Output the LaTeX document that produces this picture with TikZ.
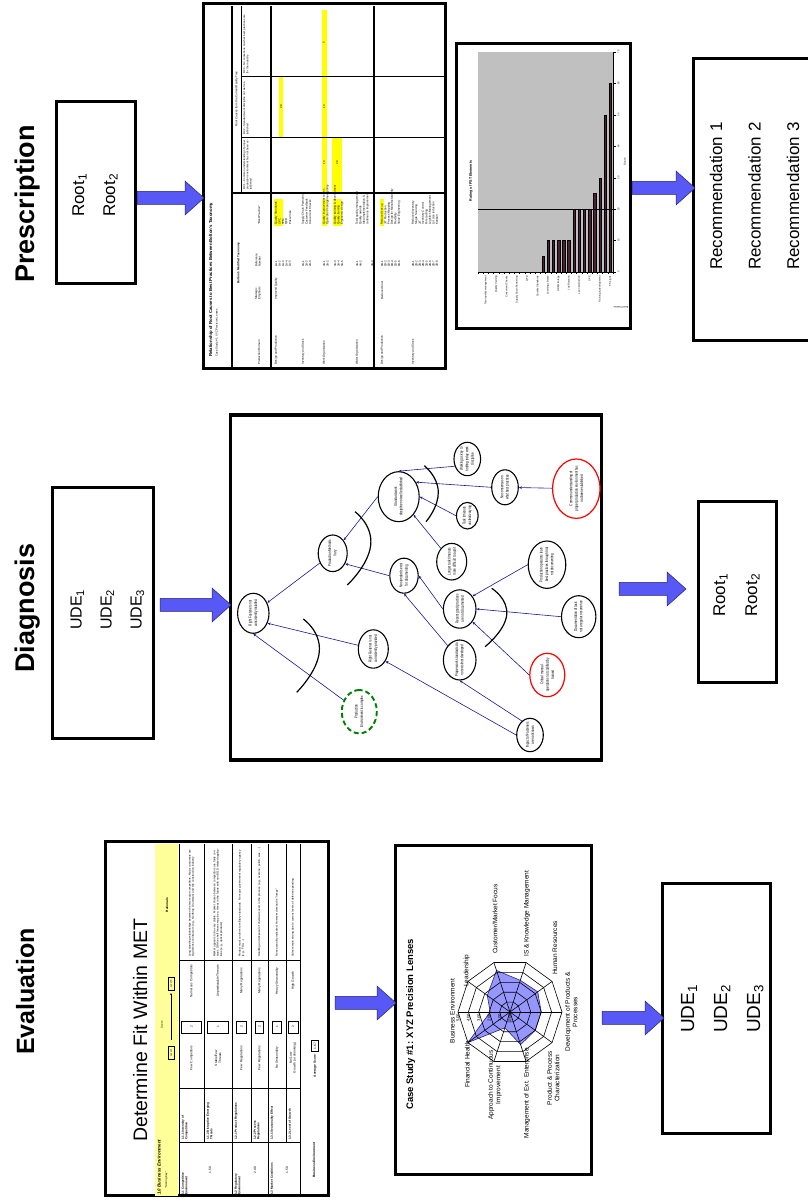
\documentclass[tikz,border=0pt]{standalone}
\usepackage{fontspec}
\setmainfont{Liberation Sans}
\usetikzlibrary{shapes.geometric,calc,arrows.meta}

\definecolor{arrowblue}{RGB}{88,88,246}
\definecolor{arrowedge}{RGB}{35,35,110}
\definecolor{linkblue}{RGB}{25,25,150}
\definecolor{hiyellow}{RGB}{255,255,0}
\definecolor{paleyellow}{RGB}{255,255,153}
\definecolor{plotgray}{RGB}{192,192,192}
\definecolor{barbrown}{RGB}{80,30,50}
\definecolor{radarfill}{RGB}{150,150,255}
\definecolor{radaredge}{RGB}{40,40,120}
\definecolor{dashgreen}{RGB}{0,128,0}

\newcommand\fz[2]{\fontsize{#1}{#2}\selectfont}

\tikzset{
  boxframe/.style={draw=black, line width=2.8pt, inner sep=0pt},
  headtext/.style={font=\fz{27}{32}\bfseries, anchor=base west, inner sep=0pt},
  bigtext/.style={font=\fz{17}{20}, anchor=base west, inner sep=0pt},
  causeshape/.style={ellipse, draw=black, line width=1.1pt, inner sep=0pt},
  redshape/.style={causeshape, draw=red, line width=1.2pt},
  greenshape/.style={causeshape, draw=dashgreen, line width=1.9pt, dash pattern=on 5pt off 3pt},
  causetext/.style={font=\fz{4.2}{5.4}, align=center, inner sep=0pt, xscale=0.7},
  causelink/.style={draw=linkblue, line width=0.6pt, -{Stealth[length=3pt,width=2.6pt]}},
  andarc/.style={draw=black, line width=1.2pt},
  barrow/.style={fill=arrowblue, draw=arrowedge, line width=0.5pt},
  gridline/.style={draw=black, line width=0.6pt},
  evtext/.style={inner sep=0pt, font=\fz{3.2}{3.8}},
  evhead/.style={inner sep=0pt, font=\fz{3}{3.6}\bfseries, anchor=north west, align=left, text width=52},
  scorebox/.style={draw=black, line width=0.9pt, inner sep=0pt, font=\fz{3.2}{3.8}},
  ptext/.style={inner sep=0pt, font=\fz{2.9}{3.4}, anchor=west},
  rlabel/.style={inner sep=0pt, font=\fz{6.5}{7.5}},
  ctext/.style={inner sep=0pt, font=\fz{2.5}{3}},
}

% ellipse of the current reality tree: style, name, u, w, half width, half height, text
\newcommand\causenode[7]{%
  \node[#1, minimum width={2*#5}, minimum height={2*#6}] (#2) at (#3,#4) {};
  \node[causetext] (#2-t) at (#2) {#7};}

% wide block arrow from a tail coordinate to a tip coordinate (pointing right on the page)
\newcommand\blockarrow[2]{%
  \draw[barrow] ($(#1)+(0,6.5)$) -- ($(#2)+(-19,6.5)$) -- ($(#2)+(-19,17)$) -- (#2)
    -- ($(#2)+(-19,-17)$) -- ($(#2)+(-19,-6.5)$) -- ($(#1)+(0,-6.5)$) -- cycle;}

% one scored row of the MET fit table: centre, box height, score, low end, high end, rationale
\newcommand\evrow[6]{%
  \node[evtext, text width=48, align=center] at (145,#1) {#4};
  \node[scorebox, minimum width=12, minimum height=#2] at (176,#1) {#3};
  \node[evtext, text width=40, align=center] at (222,#1) {#5};
  \node[evtext, text width=110, align=left, font=\fz{2.8}{3.3}] at (301,#1) {#6};}

\begin{document}
\begin{tikzpicture}[x=1pt,y=1pt]
\useasboundingbox (0,0) rectangle (808,1203);
\fill[white] (0,0) rectangle (808,1203);

% the slide is laid out sideways: u runs to the right, w upwards
\begin{scope}[shift={(808,0)}, rotate=90, transform shape]

% ---------------- column titles ----------------
\node[headtext, font=\fz{25}{30}\bfseries] (tEval) at (148,774) {Evaluation};
\node[headtext] (tDiag) at (530,774) {Diagnosis};
\node[headtext] (tPres) at (920,774) {Prescription};

% ================= EVALUATION =================
\node[boxframe, minimum width=354, minimum height=223, anchor=south west] (evtable) at (6,478) {};
\node[anchor=base west, inner sep=0pt, font=\fz{19.5}{23}] (evtitle) at (61,661) {Determine Fit Within MET};
\fill[paleyellow] (7.4,630) rectangle (358.6,653);
\draw[gridline] (7,629) -- (359,629);
\foreach \w in {576,540,508} \draw[gridline] (7,\w) -- (359,\w);
\foreach \w in {604,557,522} \draw[gridline] (61,\w) -- (359,\w);
\foreach \u in {61,115,243} \draw[gridline] (\u,508) -- (\u,629);
% header band
\node[anchor=base west, inner sep=0pt, font=\fz{4.4}{5}\bfseries\itshape] at (8,647.5) {1.0 Business Environment};
\node[anchor=base west, inner sep=0pt, font=\fz{2.8}{3.3}] at (14,641) {``Scoring Key''};
\node[scorebox, font=\fz{2.4}{2.8}, minimum width=13, minimum height=6] (lv1) at (150,637) {Level 1};
\node[inner sep=0pt, font=\fz{2.8}{3.3}] at (178,646) {Score};
\draw[line width=0.5pt, -{Stealth[length=2pt,width=1.6pt]}] (163,637) -- (210,637);
\node[scorebox, font=\fz{2.4}{2.8}, minimum width=13, minimum height=6] (lv5) at (219,637) {Level 5};
\node[inner sep=0pt, font=\fz{3.2}{3.8}\bfseries] at (298,641) {Rationale};
% group and item labels
\node[evhead] at (8,626.5) {1.1 Competitive\\Environment};
\node[evtext] at (33,598) {1.50};
\node[evhead] at (8,573.5) {1.2 Regulatory\\Environment};
\node[evtext] at (33,553) {2.00};
\node[evhead] at (8,537.5) {1.3 Market Conditions};
\node[evtext] at (33,521) {1.50};
\node[evhead] at (63,626.5) {1.1.1 Intensity of\\Competition};
\node[evhead] at (63,601.5) {1.1.2 Disruptive Emerging\\Threats};
\node[evhead] at (63,573.5) {1.2.1 Product Regulations};
\node[evhead] at (63,554.5) {1.2.2 Process\\Regulations};
\node[evhead] at (63,537.5) {1.3.1 Seasonality Effect};
\node[evhead] at (63,519.5) {1.3.2 Level of Growth};
\evrow{616.5}{20}{2}{Few Competitors}{Numerous Competitors}{Long standing relationships between the two major competitors. Major customers are big defense contractors (e.g., Northrop Grumman) and the construction industry}
\evrow{590}{21}{1}{Stable/Few\\Threats}{Unpredictable Threats}{Market appears to be very stable. Market shares between competitors are fairly constant. Off the shelf lenses may be a threat in the future with non-DOD related applications (e.g., optical products)}
\evrow{566.5}{10}{2}{Few Regulations}{Many Regulations}{Product must conform to military standards. No major government regulatory agency (e.g., FDA, ...)}
\evrow{548.5}{8}{2}{Few Regulations}{Many Regulations}{Handling and disposal of chemicals used in the process (e.g., acetone, polish, wax, ...)}
\evrow{531}{9}{1}{No Seasonality}{Heavy Seasonality}{No seasonality indicated. However demand is ``lumpy''}
\evrow{515}{10}{2}{No/Low\\Growth (or shrinking)}{High Growth}{Sales remain strong due to current levels of defense spending}
\node[evtext, font=\fz{3.2}{3.8}\bfseries] at (43,494) {Business Environment};
\node[evtext, font=\fz{3.2}{3.8}\bfseries] at (137,493) {Average Score};
\node[scorebox, minimum width=11, minimum height=7] (avg) at (157,493) {1.67};

% radar chart
\node[boxframe, minimum width=329, minimum height=196, anchor=south west] (radarbox) at (27,215) {};
\node[anchor=base west, inner sep=0pt, font=\fz{9.5}{11}\bfseries] (radtitle) at (93,395) {Case Study \#1: XYZ Precision Lenses};
\coordinate (radarc) at (191,298);
\draw[fill=radarfill, draw=radaredge, line width=0.6pt]
  ({191+19.8*cos(90)},{298+19.8*sin(90)})
  -- ({191+28.1*cos(54)},{298+28.1*sin(54)})
  -- ({191+43.7*cos(18)},{298+43.7*sin(18)})
  -- ({191+33.3*cos(-18)},{298+33.3*sin(-18)})
  -- ({191+34.3*cos(-54)},{298+34.3*sin(-54)})
  -- ({191+31.2*cos(-90)},{298+31.2*sin(-90)})
  -- ({191+31.2*cos(-126)},{298+31.2*sin(-126)})
  -- ({191+34.3*cos(-162)},{298+34.3*sin(-162)})
  -- ({191+16.6*cos(162)},{298+16.6*sin(162)})
  -- ({191+52*cos(126)},{298+52*sin(126)}) -- cycle;
\foreach \r in {10.4,20.8,31.2,41.6,52}
  \draw[line width=0.6pt] (191,{298+\r})
    \foreach \a in {54,18,-18,-54,-90,-126,-162,-198,-234} { -- ({191+\r*cos(\a)},{298+\r*sin(\a)}) } -- cycle;
\foreach \a in {90,54,18,-18,-54,-90,-126,-162,-198,-234}
  \draw[line width=0.6pt] (radarc) -- ({191+52*cos(\a)},{298+52*sin(\a)});
\foreach \k in {0,...,5}
  \node[inner sep=0pt, anchor=east, font=\fz{4.2}{5}] at (189.5,{298+10.4*\k}) {\k.00};
\node[rlabel, anchor=south] at (192,353) {Business Environment};
\node[rlabel, anchor=south west] at (216,338) {Leadership};
\node[rlabel, anchor=west] at (249,313) {Customer/Market Focus};
\node[rlabel, anchor=west] at (246,281) {IS \& Knowledge Management};
\node[rlabel, anchor=west] at (228,253) {Human Resources};
\node[rlabel, anchor=north, align=center] at (191,243) {Development of Products \&\\Processes};
\node[rlabel, anchor=north east, align=center] at (152,261) {Product \& Process\\Characterization};
\node[rlabel, anchor=east] at (155,281) {Management of Ext. Enterprise};
\node[rlabel, anchor=east, align=center] at (153,313) {Approach to Continuous\\Improvement};
\node[rlabel, anchor=south east] at (162,338) {Financial Health};

% resulting undesirable effects
\node[boxframe, minimum width=250, minimum height=108, anchor=south west] (evude) at (68,36) {};
\node[bigtext, font=\fz{19}{22}] (evu1) at (170,114) {UDE\textsubscript{1}};
\node[bigtext, font=\fz{19}{22}] (evu2) at (170,81) {UDE\textsubscript{2}};
\node[bigtext, font=\fz{19}{22}] (evu3) at (170,48) {UDE\textsubscript{3}};

% ================= DIAGNOSIS =================
\node[boxframe, minimum width=251, minimum height=101, anchor=south west] (dgude) at (463,653) {};
\node[bigtext, font=\fz{16}{19}] (dgu1) at (573,726.5) {UDE\textsubscript{1}};
\node[bigtext, font=\fz{16}{19}] (dgu2) at (573,696.5) {UDE\textsubscript{2}};
\node[bigtext, font=\fz{16}{19}] (dgu3) at (573,666.5) {UDE\textsubscript{3}};

\node[boxframe, line width=3.2pt, minimum width=345, minimum height=371.6, anchor=south west] (dgbox) at (441.3,204.7) {};

\causenode{causeshape}{n1}{589.7}{554.7}{20}{15.7}{Right Fasteners not\\consistently installed}
\causenode{causeshape}{n2}{649.7}{475.3}{18.3}{14.5}{Production Methods\\Vary}
\causenode{causeshape}{n3}{706.3}{409.3}{25}{20.5}{Standard work\\discipline not well established}
\causenode{causeshape}{n4}{744}{340.7}{16.7}{13.3}{Working as key to\\holding today work\\discipline}
\causenode{causeshape}{n5}{715.7}{303}{17.5}{13.3}{No consensus on\\what best practices}
\causenode{redshape}{n6}{714.3}{231.7}{29.7}{23.7}{Common understanding of\\proper production environment has\\not been established}
\causenode{causeshape}{n7}{687.3}{340.7}{13.3}{10.8}{Task timeouts\\unclear/varying}
\causenode{causeshape}{n8}{641.3}{356.3}{18.3}{15}{Longer task timeouts\\more difficult to audit}
\causenode{causeshape}{n9}{627.3}{404}{17.5}{14.2}{No standards exist\\for documenting}
\causenode{causeshape}{n10}{594}{348.3}{19.2}{16.3}{Recent good practices\\are not documented}
\causenode{causeshape}{n11}{638.3}{261}{23.7}{18.8}{Production operators learn\\best practices through trial\\not documenting}
\causenode{causeshape}{n12}{586.3}{229.3}{21}{17.2}{Documentation of task\\not a regular occurrence}
\causenode{redshape}{n13}{528}{260.7}{21.7}{17.5}{Critical manual\\operations not codified by\\trained}
\causenode{causeshape}{n14}{543}{348.3}{20}{16.3}{Proper work standards do\\not exist/not developed}
\causenode{causeshape}{n15}{554}{434.7}{19.2}{15}{Right Fastener is not\\consistently provided}
\causenode{greenshape}{n16}{491.3}{448.7}{21.7}{17.5}{Production\\Environment is complex}
\causenode{causeshape}{n17}{468}{278}{16.7}{13.3}{Impact of Fasteners\\are not known}

\draw[causelink] (n2) -- (n1);
\draw[causelink] (n16) -- (n1.west);
\draw[causelink] (n15) -- (n1.-125);
\draw[causelink] (n3.north) -- (n2.-40);
\draw[causelink] (n9.north) -- (n2.-130);
\draw[causelink] (n4.120) -- (n3.east);
\draw[causelink] (n5.north) -- (n3.-50);
\draw[causelink] (n7.north) -- (n3.south);
\draw[causelink] (n8) -- (n3);
\draw[causelink] (n6) -- (n5);
\draw[causelink] (n10.north) -- (n9.south);
\draw[causelink] (n14.40) -- (n9.west);
\draw[causelink] (n11.north) -- (n10.-45);
\draw[causelink] (n12.north) -- (n10.south);
\draw[causelink] (n13.north) -- (n10.-135);
\draw[causelink] (n17.north) -- (n15.-135);
\draw[causelink] (n17.30) -- (n14.west);

% AND connectors
\draw[andarc] plot[smooth, tension=1] coordinates {(584,504.7) (551.3,488.7) (510.7,511.3)};
\draw[andarc] plot[smooth, tension=1] coordinates {(691.3,453) (658,437.3) (618,460.7)};
\draw[andarc] plot[smooth, tension=1] coordinates {(737.3,383.7) (711.3,369.7) (681.3,382)};
\draw[andarc] plot[smooth, tension=1] coordinates {(614.7,316.3) (588,301.3) (556.3,323)};

\node[boxframe, minimum width=181, minimum height=78, anchor=south west] (dgroot) at (519,30) {};
\node[bigtext] (dgr1) at (586,83) {Root\textsubscript{1}};
\node[bigtext] (dgr2) at (586,51) {Root\textsubscript{2}};

% ================= PRESCRIPTION =================
\node[boxframe, minimum width=182, minimum height=79, anchor=south west] (prroot) at (918,671) {};
\node[bigtext] (prr1) at (986,724) {Root\textsubscript{1}};
\node[bigtext] (prr2) at (986,693) {Root\textsubscript{2}};

% root cause / best practice table
\node[boxframe, minimum width=365, minimum height=242, anchor=south west] (prtable) at (833,361) {};
\fill[hiyellow] (1066,525) rectangle (1126,529);
\fill[hiyellow] (1010.8,481.5) rectangle (1193,486.5);
\fill[hiyellow] (1010.8,466) rectangle (1065,476);
\fill[hiyellow] (977,525) rectangle (1004,534);
\fill[hiyellow] (977,481.5) rectangle (1004,486.5);
\fill[hiyellow] (977,466) rectangle (1004,475);
\fill[hiyellow] (977,424) rectangle (1004,428);
\draw[line width=1.4pt] (834.4,576) -- (1196.6,576);
\draw[line width=1.4pt] (1010,576) -- (1010,362.4);
\draw[line width=0.6pt] (1010,567) -- (1196.6,567);
\draw[line width=1.2pt] (834.4,537) -- (1196.6,537);
\draw[line width=1.2pt] (834.4,434) -- (1196.6,434);
\draw[line width=1pt] (1065,567) -- (1065,362.4);
\draw[line width=1pt] (1126,567) -- (1126,362.4);
\node[anchor=base west, inner sep=0pt, font=\fz{4.3}{5}\bfseries] at (846,596) {Relationship of Root Causes to Best Practices Between Bolton's Taxonomy};
\node[anchor=base west, inner sep=0pt, font=\fz{2.8}{3.3}] at (846,590.5) {Case Study \#1: XYZ Precision Lenses};
\node[ptext, anchor=center] at (1104,571.5) {Root Causes from the Current Reality Tree};
\node[ptext, anchor=center, font=\fz{3}{3.5}\bfseries] at (940,569.5) {Bolton's Modified Taxonomy};
\node[ptext] at (838,549) {Production Domain};
\node[ptext, align=left] at (903,550) {Strategic\\Emphasis};
\node[ptext, align=left] at (936,550) {Reference\\Number};
\node[ptext] at (978,549) {``Best Practice''};
\node[ptext, anchor=north west, align=left, text width=52, font=\fz{2.7}{3.2}] at (1013,565) {RC1 -- Common understanding of proper production environment has not been established};
\node[ptext, anchor=north west, align=left, text width=54, font=\fz{2.7}{3.2}] at (1068,565) {RC2 -- Standard work discipline not well established};
\node[ptext, anchor=north west, align=left, text width=62, font=\fz{2.7}{3.2}] at (1129,565) {RC3 -- No consensus on what best practices are for the industry};
\node[ptext, anchor=center] at (1096,527) {20};
\node[ptext, anchor=center] at (1040,484) {10};
\node[ptext, anchor=center] at (1096,484) {10};
\node[ptext, anchor=center] at (1160,484) {5};
\node[ptext, anchor=center] at (1040,471) {20};
\foreach \w/\t in {532/Design and Production, 505/Inventory and Stock, 484/Work Organization,
                   451/Wider Organization, 426/Design and Production, 395/Inventory and Stock}
  \node[ptext] at (838,\w) {\t};
\node[ptext] at (903,532) {Improved Quality};
\node[ptext] at (903,426) {Reduced Cost};
\foreach \w/\r/\p in {532/1A-1/Quality Standards, 528.5/1A-2/SPC, 525/1A-3/TPM, 521.5/1A-4/QFD, 518/1A-5/Poka-Yoke,
    505/2A-1/Supply Chain Partnering, 501.5/2A-2/Customer Feedback, 498/2A-3/Concurrent Checks,
    484/3A-1/Quality improvement teams, 480.5/3A-2/Open-door management policy,
    473/3A-3/Quality training \& development, 469.5/3A-4/Quality training, 466/3A-5/Ergonomic design,
    451/4A-1/Total quality management, 447.5/4A-2/Quality awards, 436/4A-3/{},
    426/1B-1/Reduced set-up, 422.6/1B-2/JIT Production, 419.2/1B-3/Process Mapping,
    415.8/1B-4/Design for Manufacturability, 412.4/1B-5/Flexibility, 409/1B-6/Value Engineering,
    395/2B-1/Reduced inventory, 391.6/2B-2/Single Sourcing, 388.2/2B-3/JIT, 384.8/2B-4/Inventory Control,
    381.4/2B-5/Forecasting, 378/2B-6/Logistics Management, 374.6/2B-7/Lot size reduction, 371.2/2B-8/Kanban}
  {\node[ptext] at (936,\w) {\r}; \node[ptext] at (978,\w) {\p};}
\node[ptext] at (978,444) {Idea implementation \&};
\node[ptext] at (978,440.5) {continuous improvement};

% rating bar chart
\node[boxframe, minimum width=285, minimum height=174, anchor=south west] (prchart) at (873,176) {};
\fill[plotgray] (931,195) rectangle (1151,330);
\foreach \i/\v in {12/5,13/10,14/10,15/10,16/10,17/10,18/20,19/20,20/20,21/20,22/25,23/30,24/50,25/60}
  \filldraw[fill=barbrown, draw=black, line width=0.3pt]
    (931,{330-5.19*(\i+0.5)-1.2}) rectangle ({931+3.143*\v},{330-5.19*(\i+0.5)+1.2});
\draw[line width=0.9pt] (993.9,195) -- (993.9,330);
\draw[line width=0.5pt] (931,195) -- (931,330);
\draw[line width=0.4pt] (931,195) -- (1151,195);
\foreach \i in {0,...,26} \draw[line width=0.3pt] (931,{330-5.19*\i}) -- (928.5,{330-5.19*\i});
\foreach \k/\t in {0/0,1/10,2/20,3/30,4/40,5/50,6/60,7/70} {
  \draw[line width=0.4pt] ({931+31.43*\k},195) -- ({931+31.43*\k},192.5);
  \node[ctext] at ({931+31.43*\k},189.5) {\t};}
\foreach \i/\t in {1/Total quality management, 3/Quality training, 5/Concurrent Checks,
    7/Supply Chain Partnering, 9/QFD, 11/Quality Standards, 13/Learning climate, 15/HRM strategy,
    17/Job Rotation, 19/Lean production, 21/SPC, 23/Training \& development, 25/5 S signs}
  \node[ctext, anchor=east] at (927,{330-5.19*(\i+0.5)}) {\t};
\node[inner sep=0pt, font=\fz{3.6}{4.2}\bfseries] (charttitle) at (1022,337) {Rating of PST Elements};
\node[ctext, font=\fz{2.8}{3.3}] at (1041,183) {Score};
\node[ctext, rotate=90] at (896,187) {Best Practice};

% recommendations
\node[boxframe, minimum width=282, minimum height=133, anchor=south west] (prrec) at (861,-20) {};
\node[bigtext] (rec1) at (933,86) {Recommendation 1};
\node[bigtext] (rec2) at (933,47.5) {Recommendation 2};
\node[bigtext] (rec3) at (933,9) {Recommendation 3};

% ends of the block arrows
\coordinate (e1a) at (200,473);  \coordinate (e1b) at (200,412);
\coordinate (e2a) at (185,206);  \coordinate (e2b) at (185,144);
\coordinate (d1a) at (598,648);  \coordinate (d1b) at (598,577);
\coordinate (d2a) at (614,189);  \coordinate (d2b) at (614,122);
\coordinate (p1a) at (1005,671); \coordinate (p1b) at (1005,604);
\coordinate (p2a) at (1015,176); \coordinate (p2b) at (1015,113);
\end{scope}

% block arrows between the stages
\blockarrow{e1a}{e1b}
\blockarrow{e2a}{e2b}
\blockarrow{d1a}{d1b}
\blockarrow{d2a}{d2b}
\blockarrow{p1a}{p1b}
\blockarrow{p2a}{p2b}
\end{tikzpicture}
\end{document}
